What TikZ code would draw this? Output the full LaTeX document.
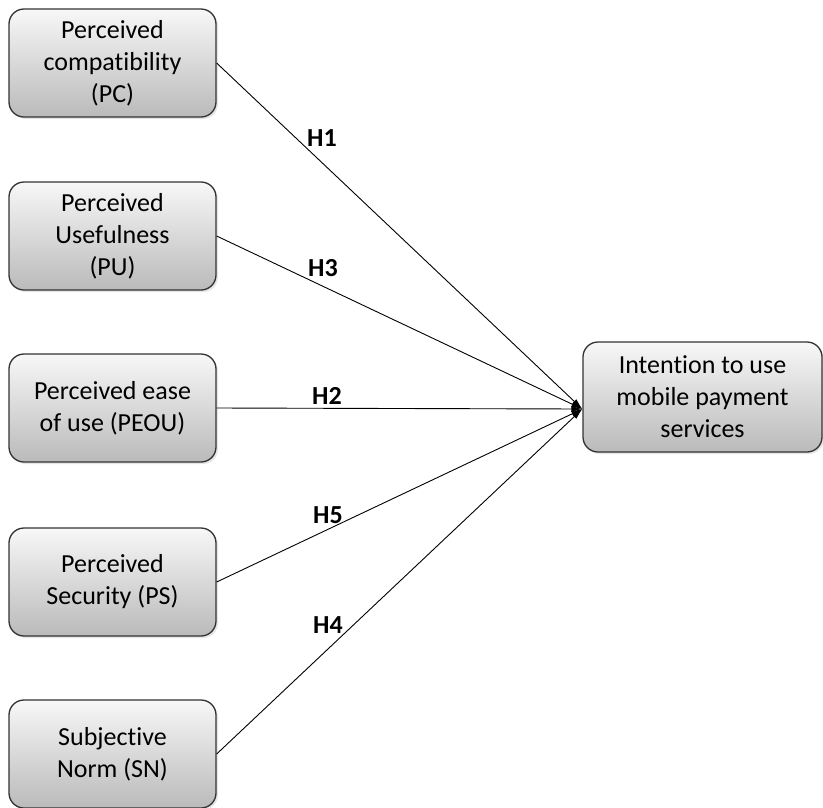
\documentclass[tikz,border=0pt]{standalone}
\usepackage{fontspec}
\setmainfont[Ligatures=NoCommon]{Carlito}
\usetikzlibrary{shadows,arrows.meta}
\tikzset{
  factor/.style={draw=black!80, line width=1.3pt, rounded corners=15pt, align=center,
    top color=black!3, bottom color=black!27, minimum width=207pt, minimum height=108pt,
    font=\fontsize{26}{32}\selectfont,
    drop shadow={opacity=0.2, shadow xshift=2pt, shadow yshift=-2pt}},
  hyp/.style={font=\fontsize{26}{32}\selectfont\bfseries}
}
\begin{document}
\begin{tikzpicture}[>={Latex[length=11pt,width=6pt]}, x=1pt, y=-1pt]
    \useasboundingbox (0,0) rectangle (823,807);
    \node[factor] (pc) at (112.5,63) {Perceived\\compatibility\\(PC)};
    \node[factor] (pu) at (112.5,236) {Perceived\\Usefulness\\(PU)};
    \node[factor] (peou) at (112.5,408) {Perceived ease\\of use (PEOU)};
    \node[factor] (ps) at (112.5,582) {Perceived\\Security (PS)};
    \node[factor] (sn) at (112.5,754) {Subjective\\Norm (SN)};
    \node[factor, minimum width=239pt, minimum height=110pt] (intent) at (702.5,397) {Intention to use\\mobile payment\\services};
    \coordinate (tip) at ([yshift=-12pt]intent.west);
    % hypotheses
    \foreach \f in {pc,pu,peou,ps,sn}
      \draw[->, line width=0.9pt] (\f.east) -- (tip);
    \node[hyp] (h1) at (322,138) {H1};
    \node[hyp] (h3) at (323,268) {H3};
    \node[hyp] (h2) at (327,396) {H2};
    \node[hyp] (h5) at (328,515) {H5};
    \node[hyp] (h4) at (328,625) {H4};
\end{tikzpicture}
\end{document}
